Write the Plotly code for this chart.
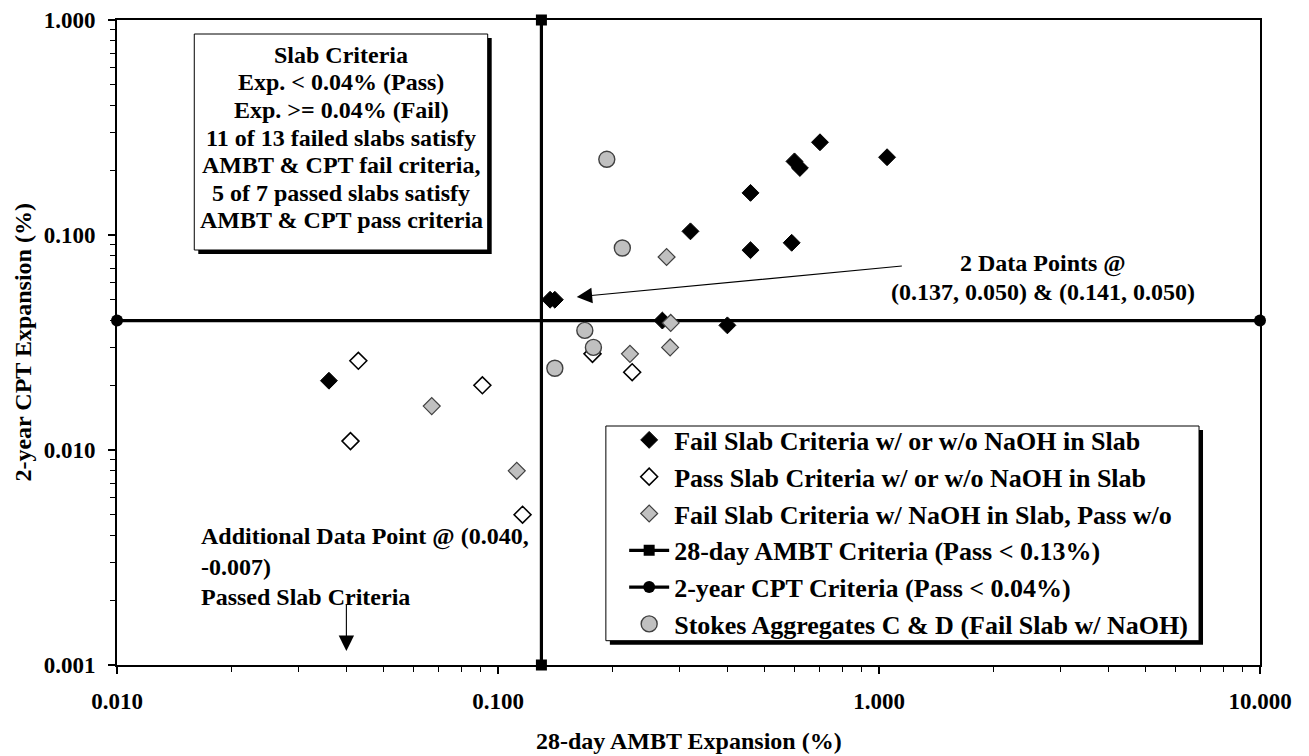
import math
import plotly.graph_objects as go

# ---- data (AMBT 28-day expansion vs CPT 2-year expansion, %) ----
fail_x = [0.70, 0.60, 0.62, 0.46, 0.32, 0.46, 0.59, 1.05, 0.137, 0.141, 0.27, 0.40, 0.036]
fail_y = [0.27, 0.22, 0.205, 0.157, 0.104, 0.085, 0.092, 0.23, 0.050, 0.050, 0.040, 0.038, 0.021]

pass_x = [0.043, 0.041, 0.091, 0.177, 0.225, 0.116]
pass_y = [0.026, 0.011, 0.020, 0.028, 0.023, 0.005]

naoh_x = [0.067, 0.112, 0.277, 0.284, 0.222, 0.283]
naoh_y = [0.016, 0.008, 0.079, 0.039, 0.028, 0.030]

stokes_x = [0.193, 0.212, 0.169, 0.178, 0.141]
stokes_y = [0.225, 0.087, 0.036, 0.030, 0.024]

ambt_limit = 0.13
cpt_limit = 0.04
x_range = [0.01, 10.0]
y_range = [0.001, 1.0]

x_ticks = [0.01, 0.1, 1.0, 10.0]
y_ticks = [0.001, 0.01, 0.1, 1.0]

box_lines = [
    "Slab Criteria",
    "Exp. &lt; 0.04% (Pass)",
    "Exp. &gt;= 0.04% (Fail)",
    "11 of 13 failed slabs satisfy",
    "AMBT & CPT fail criteria,",
    "5 of 7 passed slabs satisfy",
    "AMBT & CPT pass criteria",
]
pair_note = ["2 Data Points @", "(0.137, 0.050) & (0.141, 0.050)"]
pair_point = (0.137, 0.050)
extra_note = ["Additional Data Point @ (0.040,", "-0.007)", "Passed Slab Criteria"]
extra_point_x = 0.040

# ---- layout geometry (pixels) ----
W, H = 1309, 756
PL, PR, PT, PB = 116.7, 1260.0, 20.0, 665.0
FONT = "Liberation Serif"
BOLD = dict(family=FONT, size=24, color="black", weight="bold")
TICKFONT = dict(family=FONT, size=23, color="black", weight="bold")
LEGFONT = dict(family=FONT, size=26, color="black", weight="bold")


def fx(px):
    return (px - PL) / (PR - PL)


def fy(py):
    return (PB - py) / (PB - PT)


def minor_vals(lo_exp, hi_exp):
    vals = []
    for e in range(lo_exp, hi_exp):
        for m in range(2, 10):
            vals.append(m * 10 ** e)
    return vals


fig = go.Figure()

# criteria lines
fig.add_trace(go.Scatter(
    x=[ambt_limit, ambt_limit], y=y_range, mode="lines+markers",
    name="28-day AMBT Criteria (Pass &lt; 0.13%)",
    line=dict(color="black", width=3.2),
    marker=dict(symbol="square", size=11, color="black"),
    cliponaxis=False, legendrank=4, legendgroup="d",
))
fig.add_trace(go.Scatter(
    x=x_range, y=[cpt_limit, cpt_limit], mode="lines+markers",
    name="2-year CPT Criteria (Pass &lt; 0.04%)",
    line=dict(color="black", width=3.2),
    marker=dict(symbol="circle", size=12, color="black"),
    cliponaxis=False, legendrank=5, legendgroup="e",
))

# data series
fig.add_trace(go.Scatter(
    x=fail_x, y=fail_y, mode="markers",
    name="Fail Slab Criteria w/ or w/o NaOH in Slab",
    marker=dict(symbol="diamond", size=13, color="black", line=dict(color="black", width=1)),
    legendrank=1, legendgroup="a",
))
fig.add_trace(go.Scatter(
    x=pass_x, y=pass_y, mode="markers",
    name="Pass Slab Criteria w/ or w/o NaOH in Slab",
    marker=dict(symbol="diamond", size=13, color="white", line=dict(color="black", width=1.6)),
    legendrank=2, legendgroup="b",
))
fig.add_trace(go.Scatter(
    x=naoh_x, y=naoh_y, mode="markers",
    name="Fail Slab Criteria w/ NaOH in Slab, Pass w/o",
    marker=dict(symbol="diamond", size=13, color="#c0c0c0", line=dict(color="#404040", width=1.2)),
    legendrank=3, legendgroup="c",
))
fig.add_trace(go.Scatter(
    x=stokes_x, y=stokes_y, mode="markers",
    name="Stokes Aggregates C & D (Fail Slab w/ NaOH)",
    marker=dict(symbol="circle", size=16, color="#c0c0c0", line=dict(color="#404040", width=1.4)),
    legendrank=6, legendgroup="f",
))

shapes = []
# criteria text box with drop shadow
shapes.append(dict(type="rect", xref="paper", yref="paper",
                   x0=fx(198), x1=fx(491.5), y0=fy(254), y1=fy(38),
                   fillcolor="black", line=dict(width=0), layer="above"))
shapes.append(dict(type="rect", xref="paper", yref="paper",
                   x0=fx(194), x1=fx(487.5), y0=fy(250), y1=fy(34),
                   fillcolor="white", line=dict(color="black", width=1), layer="above"))
# legend box with drop shadow
shapes.append(dict(type="rect", xref="paper", yref="paper",
                   x0=fx(609.7), x1=fx(1203), y0=fy(644.7), y1=fy(430),
                   fillcolor="black", line=dict(width=0), layer="above"))
shapes.append(dict(type="rect", xref="paper", yref="paper",
                   x0=fx(605.7), x1=fx(1199), y0=fy(640.7), y1=fy(426),
                   fillcolor="white", line=dict(color="black", width=1), layer="above"))

annotations = []
line_y0, line_dy = 55.0, 27.5
for i, t in enumerate(box_lines):
    annotations.append(dict(text=t, xref="paper", yref="paper", x=fx(340.8), y=fy(line_y0 + i * line_dy),
                            xanchor="center", yanchor="middle", showarrow=False, font=BOLD))

# note for the two overlapping points
for i, t in enumerate(pair_note):
    annotations.append(dict(text=t, xref="paper", yref="paper", x=fx(1042.5), y=fy(263.3 + i * 28.4),
                            xanchor="center", yanchor="middle", showarrow=False, font=BOLD))
# arrow pointing just right of the overlapping pair
tip_x = math.log10(pair_point[0]) + 0.07
tip_y = math.log10(pair_point[1]) + 0.013
annotations.append(dict(text="", xref="x", yref="y",
                        x=tip_x, y=tip_y, ax=903.3 - 576.7, ay=266 - 297,
                        axref="pixel", ayref="pixel", showarrow=True,
                        arrowhead=2, arrowsize=2.8, arrowwidth=1.1, arrowcolor="black"))

# note for the off-scale point
for i, t in enumerate(extra_note):
    annotations.append(dict(text=t, xref="paper", yref="paper", x=fx(199), y=fy(536.7 + i * 30),
                            xanchor="left", yanchor="middle", showarrow=False, font=BOLD))
annotations.append(dict(text="", xref="x", yref="paper",
                        x=math.log10(extra_point_x), y=fy(651), ax=0, ay=-48,
                        axref="pixel", ayref="pixel", showarrow=True,
                        arrowhead=2, arrowsize=2.8, arrowwidth=1.1, arrowcolor="black"))

# axis titles
annotations.append(dict(text="28-day AMBT Expansion (%)", xref="paper", yref="paper",
                        x=0.5, y=fy(741), xanchor="center", yanchor="middle", showarrow=False,
                        font=BOLD))
annotations.append(dict(text="2-year CPT Expansion (%)", xref="paper", yref="paper",
                        x=fx(21.7), y=fy(342.5), xanchor="center", yanchor="middle", showarrow=False,
                        textangle=-90, font=BOLD))

axis_common = dict(
    type="log", showgrid=False, zeroline=False,
    showline=True, linecolor="black", linewidth=2, mirror=True,
    ticks="outside", ticklen=7, tickwidth=1.5, tickcolor="black",
    tickformat=".3f", tickfont=TICKFONT,
)

fig.update_layout(
    width=W, height=H,
    margin=dict(l=PL, r=W - PR, t=PT, b=H - PB, autoexpand=False),
    paper_bgcolor="white", plot_bgcolor="white",
    font=BOLD,
    showlegend=True,
    legend=dict(x=fx(624), y=fy(416.5), xanchor="left", yanchor="top",
                bgcolor="rgba(0,0,0,0)", borderwidth=0, itemwidth=40,
                traceorder="grouped", tracegroupgap=0, font=LEGFONT),
    shapes=shapes,
    annotations=annotations,
    xaxis=dict(axis_common, range=[-2, 1], tickvals=x_ticks, ticklabelstandoff=7,
               minor=dict(ticks="outside", ticklen=5, tickcolor="black", tickwidth=1,
                          tickvals=minor_vals(-2, 1))),
    yaxis=dict(axis_common, range=[-3, 0], tickvals=y_ticks, ticklabelstandoff=8,
               minor=dict(ticks="outside", ticklen=5, tickcolor="black", tickwidth=1,
                          tickvals=minor_vals(-3, 0))),
)

fig.write_html("out.html")
